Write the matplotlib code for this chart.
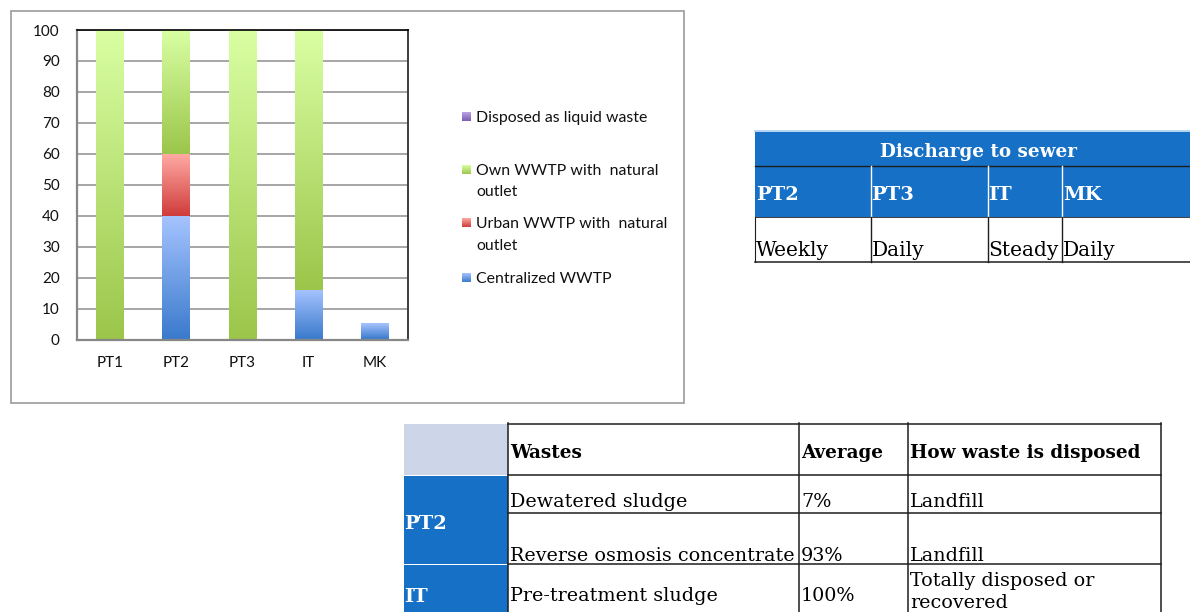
import numpy as np
import matplotlib.pyplot as plt
from matplotlib.colors import LinearSegmentedColormap
from matplotlib.patches import Rectangle

plt.rcParams['font.family'] = ['Lato', 'DejaVu Sans']

# --- chart data (percent of wastewater) ---
sites = ["PT1", "PT2", "PT3", "IT", "MK"]
centralized = [0, 40, 0, 16, 5]
urban = [0, 20, 0, 0, 0]
own = [100, 40, 100, 84, 0]
liquid = [0, 0, 0, 0, 0]
series_names = ["Centralized WWTP", "Urban WWTP with  natural\noutlet",
                "Own WWTP with  natural\noutlet", "Disposed as liquid waste"]
# (bottom colour, top colour) of each gradient
series_colors = [("#3a7acc", "#a6c4ff"), ("#cf3c3a", "#ffaaa4"),
                 ("#9bc64a", "#d9ffa3"), ("#7b5bb2", "#bba4e4")]

# --- tables ---
sewer_title = "Discharge to sewer"
sewer_sites = ["PT2", "PT3", "IT", "MK"]
sewer_freq = ["Weekly", "Daily", "Steady", "Daily"]
waste_header = ["Wastes", "Average", "How waste is disposed"]
waste_sites = ["PT2", "IT"]
waste_types = ["Dewatered sludge", "Reverse osmosis concentrate", "Pre-treatment sludge"]
waste_share = ["7%", "93%", "100%"]
waste_disposal = ["Landfill", "Landfill", "Totally disposed or\nrecovered"]

W, H = 1190, 612
BLUE = "#1570c6"
LINE = "#1e1e1e"
SERIF = "DejaVu Serif"

fig = plt.figure(figsize=(W / 100, H / 100), dpi=100)
canvas = fig.add_axes([0, 0, 1, 1])
canvas.set_axis_off()


def px_axes(left, top, right, bottom):
    return fig.add_axes([left / W, 1 - bottom / H, (right - left) / W, (bottom - top) / H])


grad = np.linspace(0, 1, 256).reshape(-1, 1)


def gradient_box(axis, x0, x1, ylow, yhigh, cmap, z=2):
    axis.imshow(grad, extent=(x0, x1, ylow, yhigh), origin='lower', cmap=cmap,
                aspect='auto', zorder=z, interpolation='bicubic')


# ---------------- stacked bar chart ----------------
ax = px_axes(77, 30, 408, 339.5)
x = np.arange(len(sites))
bottom = np.zeros(len(sites))
cmaps = []
for vals, (c0, c1) in zip([centralized, urban, own, liquid], series_colors):
    cmap = LinearSegmentedColormap.from_list("", [c0, c1])
    cmaps.append(cmap)
    bars = ax.bar(x, vals, 0.42, bottom=bottom, color='none', edgecolor='none')
    for b in bars:
        if b.get_height() > 0:
            gradient_box(ax, b.get_x(), b.get_x() + b.get_width(),
                         b.get_y(), b.get_y() + b.get_height(), cmap)
    bottom += np.array(vals)

ax.set_xlim(-0.5, len(sites) - 0.5)
ax.set_ylim(0, 100)
ax.set_yticks(range(0, 101, 10))
ax.set_xticks(x)
ax.set_xticklabels(sites)
ax.yaxis.grid(True, color="#8e8e8e", lw=1.1)
ax.set_axisbelow(True)
ax.tick_params(length=0, labelsize=11, colors="#111111")
ax.tick_params(axis='y', pad=12.5)
ax.tick_params(axis='x', pad=12)
for s in ("left", "bottom"):
    ax.spines[s].set_color("#878787")
    ax.spines[s].set_linewidth(1.6)
ax.spines["top"].set_color("black")
ax.spines["top"].set_linewidth(1.2)
ax.spines["right"].set_color("#3c3c3c")
ax.spines["right"].set_linewidth(1.4)

# chart frame
canvas.add_patch(Rectangle((10.5, 11), 673.5, 392, fill=False, ec="#a3a3a3", lw=1.3))

# legend (Excel order: last series first), baselines of first lines
leg_base = [121.7, 175, 228.3, 283.3]
for i, name in enumerate(series_names[::-1]):
    yb = leg_base[i]
    gradient_box(canvas, 462, 471, yb - 1, yb - 10, cmaps[::-1][i])
    for j, line in enumerate(name.split("\n")):
        canvas.text(476.5, yb + j * 21.5, line, fontsize=11.4, va='baseline', ha='left',
                    color="#111111")

# ---------------- discharge table ----------------
t1_x = [755, 870.5, 987.5, 1062, 1190]
t1_y = [132, 165.7, 217, 261.5]
canvas.add_patch(Rectangle((t1_x[0], t1_y[0]), t1_x[-1] - t1_x[0], t1_y[2] - t1_y[0],
                           fc=BLUE, ec='none'))
canvas.plot([t1_x[0], t1_x[-1]], [131.3, 131.3], color="#a9cdee", lw=1.2)
canvas.plot([t1_x[0], t1_x[-1]], [t1_y[1], t1_y[1]], color=LINE, lw=1)
canvas.plot([t1_x[0], t1_x[-1]], [t1_y[2], t1_y[2]], color=LINE, lw=0.6)
canvas.plot([t1_x[0], t1_x[-1]], [t1_y[3], t1_y[3]], color=LINE, lw=1.1)
canvas.plot([t1_x[0], t1_x[0]], [t1_y[2], t1_y[3]], color=LINE, lw=0.8)
for xv in t1_x[1:-1]:
    canvas.plot([xv, xv], [t1_y[1], t1_y[2]], color="white", lw=1)
    canvas.plot([xv, xv], [t1_y[2], t1_y[3]], color=LINE, lw=1)
canvas.text(978, 157.3, sewer_title, color="white", fontsize=13.2, fontweight='bold',
            family=SERIF, ha='center', va='baseline')
for xv, site, freq in zip(t1_x[:-1], sewer_sites, sewer_freq):
    canvas.text(xv + 1, 200, site, color="white", fontsize=14, fontweight='bold',
                family=SERIF, va='baseline')
    canvas.text(xv + 1, 256, freq, color="black", fontsize=14.5, family=SERIF, va='baseline')

# ---------------- wastes table ----------------
t2_x = [403.5, 508, 799, 908, 1161]
t2_y = [423.5, 475.3, 512.7, 564.3, 612]
canvas.add_patch(Rectangle((t2_x[0], t2_y[0]), t2_x[1] - t2_x[0], t2_y[1] - t2_y[0],
                           fc="#cdd5e9", ec='none'))
canvas.add_patch(Rectangle((t2_x[0], t2_y[1] + 0.7), t2_x[1] - t2_x[0], t2_y[3] - t2_y[1] - 1.2,
                           fc=BLUE, ec='none'))
canvas.add_patch(Rectangle((t2_x[0], t2_y[3] + 1), t2_x[1] - t2_x[0], t2_y[4] - t2_y[3],
                           fc=BLUE, ec='none'))
for yv in t2_y[:-1]:
    canvas.plot([t2_x[1], t2_x[-1]], [yv, yv], color=LINE, lw=1.1)
for xv in t2_x[1:]:
    canvas.plot([xv, xv], [t2_y[0] - 1, t2_y[-1]], color=LINE, lw=1.1)

for xv, head in zip(t2_x[1:-1], waste_header):
    canvas.text(xv + 2, 457.7, head, fontsize=13.2, fontweight='bold', family=SERIF,
                va='baseline')
canvas.text(t2_x[0] + 1, 529.3, waste_sites[0], color="white", fontsize=14,
            fontweight='bold', family=SERIF, va='baseline')
canvas.text(t2_x[0] + 1, 601.7, waste_sites[1], color="white", fontsize=14,
            fontweight='bold', family=SERIF, va='baseline')
row_base = [506.7, 560.7, 600.7]
for yb, wt, sh, disp in zip(row_base, waste_types, waste_share, waste_disposal):
    canvas.text(t2_x[1] + 2, yb, wt, fontsize=13.8, family=SERIF, va='baseline')
    canvas.text(t2_x[2] + 2, yb, sh, fontsize=13.8, family=SERIF, va='baseline')
    lines = disp.split("\n")
    y0 = yb if len(lines) == 1 else 585.7
    for j, line in enumerate(lines):
        canvas.text(t2_x[3] + 2, y0 + j * 22.5, line, fontsize=13.8, family=SERIF,
                    va='baseline')

canvas.set_xlim(0, W)
canvas.set_ylim(H, 0)

fig.savefig("out.png", dpi=100, facecolor="white")
